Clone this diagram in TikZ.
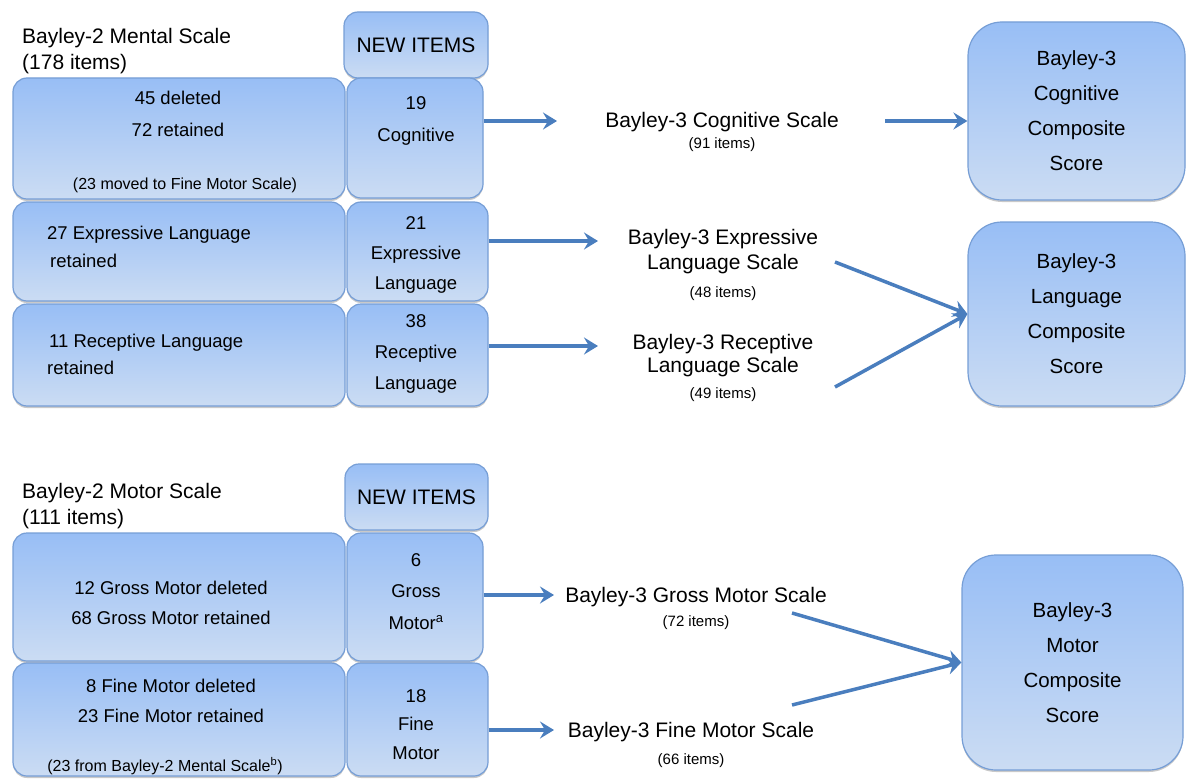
\documentclass[tikz,border=0pt]{standalone}
\usepackage{fontspec}
\setmainfont{Liberation Sans}
\usepackage{xcolor}
\usepackage{tikz}
\usetikzlibrary{arrows.meta,positioning,shadows}

\definecolor{boxtop}{RGB}{152,190,245}
\definecolor{boxbot}{RGB}{203,220,243}
\definecolor{boxline}{RGB}{118,158,214}
\definecolor{flowblue}{RGB}{74,126,190}

\begin{document}
\begin{tikzpicture}[x=1pt,y=-1pt,>={Stealth[length=14pt,width=17pt,inset=5pt]},
    box/.style={draw=boxline, line width=1.2pt, rounded corners=14pt, top color=boxtop, bottom color=boxbot, inner sep=0pt,
        drop shadow={shadow xshift=0pt, shadow yshift=-2pt, opacity=.3, fill=black!70}}]
        \tikzstyle{bigbox} = [box, rounded corners=34pt, align=center, font=\fontsize{20.5}{35}\selectfont]
        \tikzstyle{head} = [inner sep=0pt, align=left, anchor=west, font=\fontsize{21}{26}\selectfont]
        \tikzstyle{txt} = [inner sep=0pt, align=center, font=\fontsize{18.5}{31}\selectfont]
        \tikzstyle{note} = [inner sep=0pt, font=\fontsize{16}{19}\selectfont]
        \tikzstyle{result} = [inner sep=0pt, align=center, font=\fontsize{21}{25}\selectfont]
        \tikzstyle{count} = [inner sep=0pt, font=\fontsize{15}{18}\selectfont]
        \tikzstyle{flow} = [draw=flowblue, line width=3.5pt]
        \useasboundingbox (0,0) rectangle (1188,781);

        % Bayley-2 Mental Scale
        \node[head] (mental) at (22,51) {Bayley-2 Mental Scale\\(178 items)};
        \node[box, minimum width=144pt, minimum height=66pt, font=\fontsize{21}{25}\selectfont] (new1) at (416,45) {NEW ITEMS};
        \node[box, minimum width=332pt, minimum height=121pt] (a1) at (179,138.5) {};
        \node[box, minimum width=136pt, minimum height=120pt] (n1) at (415,138) {};
        \node[box, minimum width=332pt, minimum height=99pt] (a2) at (179,251.5) {};
        \node[box, minimum width=141pt, minimum height=99pt] (n2) at (417.5,251.5) {};
        \node[box, minimum width=332pt, minimum height=102pt] (a3) at (179,355) {};
        \node[box, minimum width=141pt, minimum height=102pt] (n3) at (417.5,355) {};

        \node[txt, font=\fontsize{18.5}{32}\selectfont] (a1t) at (178,114) {45 deleted\\72 retained};
        \node[note] (a1n) at (185,185) {(23 moved to Fine Motor Scale)};
        \node[txt, font=\fontsize{18.5}{32}\selectfont] (n1t) at (416,121) {19\\Cognitive};
        \node[txt, align=left, anchor=west, font=\fontsize{18.5}{28}\selectfont] (a2t) at (47,247) {27 Expressive Language\\\hspace*{3pt}retained};
        \node[txt, font=\fontsize{18.5}{30}\selectfont] (n2t) at (416,255) {21\\Expressive\\Language};
        \node[txt, align=left, anchor=west, font=\fontsize{18.5}{27}\selectfont] (a3t) at (47,354.5) {\hspace*{2pt}11 Receptive Language\\retained};
        \node[txt] (n3t) at (416,354) {38\\Receptive\\Language};

        % Bayley-3 scales and composites
        \node[result] (cog) at (722,122) {Bayley-3 Cognitive Scale};
        \node[count, below=5pt of cog] (cogn) {(91 items)};
        \node[result] (expr) at (723,251.5) {Bayley-3 Expressive\\Language Scale};
        \node[count, below=12pt of expr] (exprn) {(48 items)};
        \node[result, font=\fontsize{21}{23}\selectfont] (rec) at (723,355.5) {Bayley-3 Receptive\\Language Scale};
        \node[count, below=10pt of rec] (recn) {(49 items)};

        \node[bigbox, minimum width=217pt, minimum height=178pt] (c1) at (1076.5,111) {Bayley-3\\Cognitive\\Composite\\Score};
        \node[bigbox, minimum width=217pt, minimum height=184pt] (c2) at (1076.5,314) {Bayley-3\\Language\\Composite\\Score};

        \coordinate (e1) at (557,121);
        \coordinate (e2) at (598,241);
        \coordinate (e3) at (598,346);
        \coordinate (b1) at (885,121);
        \coordinate (b2) at (835,262);
        \coordinate (b3) at (835,387);

        \draw [flow, ->] (n1.east |- e1) -- (e1);
        \draw [flow, ->] (n2.east |- e2) -- (e2);
        \draw [flow, ->] (n3.east |- e3) -- (e3);
        \draw [flow, ->] (b1) -- (c1.west |- b1);
        \draw [flow, ->] (b2) -- (c2.west);
        \draw [flow, ->] (b3) -- (c2.west);

        % Bayley-2 Motor Scale
        \node[head] (motor) at (22,506.5) {Bayley-2 Motor Scale\\(111 items)};
        \node[box, minimum width=143pt, minimum height=66pt, font=\fontsize{21}{25}\selectfont] (new2) at (416.5,497) {NEW ITEMS};
        \node[box, minimum width=332pt, minimum height=128pt] (a4) at (179,597) {};
        \node[box, minimum width=136pt, minimum height=128pt] (n4) at (415,597) {};
        \node[box, minimum width=332pt, minimum height=113pt] (a5) at (179,719.5) {};
        \node[box, minimum width=141pt, minimum height=113pt] (n5) at (417.5,719.5) {};

        \node[txt, font=\fontsize{18.5}{30}\selectfont] (a4t) at (171,603) {12 Gross Motor deleted\\68 Gross Motor retained};
        \node[txt, font=\fontsize{18.5}{31.5}\selectfont] (n4t) at (416,591.3) {6\\Gross\\Motor\textsuperscript{a}};
        \node[txt, font=\fontsize{18.5}{30}\selectfont] (a5t) at (171,701) {8 Fine Motor deleted\\23 Fine Motor retained};
        \node[note] (a5n) at (165,766) {(23 from Bayley-2 Mental Scale\textsuperscript{b})};
        \node[txt, font=\fontsize{18.5}{28.5}\selectfont] (n5t) at (416,724.3) {18\\Fine\\Motor};

        \node[result] (gross) at (696,597) {Bayley-3 Gross Motor Scale};
        \node[count, below=8pt of gross] (grossn) {(72 items)};
        \node[result] (fine) at (691,732) {Bayley-3 Fine Motor Scale};
        \node[count, below=11pt of fine] (finen) {(66 items)};

        \node[bigbox, minimum width=221pt, minimum height=215pt] (c3) at (1072.5,662.5) {Bayley-3\\Motor\\Composite\\Score};

        \coordinate (e4) at (554,595);
        \coordinate (e5) at (554,730);
        \coordinate (b4) at (792,613);
        \coordinate (b5) at (792,705);

        \draw [flow, ->] (n4.east |- e4) -- (e4);
        \draw [flow, ->] (n5.east |- e5) -- (e5);
        \draw [flow, ->] (b4) -- (c3.west);
        \draw [flow, ->] (b5) -- (c3.west);
\end{tikzpicture}
\end{document}
